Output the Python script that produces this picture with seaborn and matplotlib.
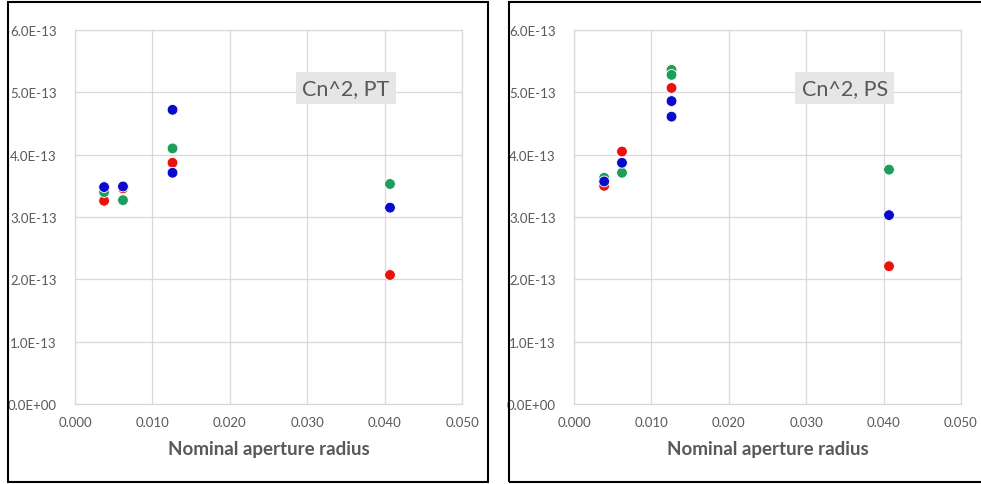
import numpy as np
import pandas as pd
import matplotlib
matplotlib.use('Agg')
import matplotlib.pyplot as plt
import seaborn as sns
from matplotlib.patches import Rectangle
from matplotlib.ticker import FuncFormatter

# PT panel data (Cn^2 vs nominal aperture radius)
pt_red_x = [0.00376, 0.0062, 0.0126, 0.0407]
pt_red_y = [3.26e-13, 3.46e-13, 3.87e-13, 2.07e-13]
pt_green_x = [0.00376, 0.0062, 0.0126, 0.0407]
pt_green_y = [3.40e-13, 3.27e-13, 4.10e-13, 3.53e-13]
pt_blue_x = [0.00376, 0.0062, 0.0126, 0.0126, 0.0407]
pt_blue_y = [3.48e-13, 3.49e-13, 4.72e-13, 3.71e-13, 3.15e-13]

# PS panel data
ps_red_x = [0.0039, 0.0062, 0.0126, 0.0126, 0.0407]
ps_red_y = [3.50e-13, 4.05e-13, 5.07e-13, 4.85e-13, 2.21e-13]
ps_green_x = [0.0039, 0.0062, 0.0126, 0.0126, 0.0407]
ps_green_y = [3.63e-13, 3.71e-13, 5.36e-13, 5.28e-13, 3.76e-13]
ps_blue_x = [0.0039, 0.0062, 0.0126, 0.0126, 0.0407]
ps_blue_y = [3.57e-13, 3.87e-13, 4.86e-13, 4.61e-13, 3.03e-13]

x_ticks = [0.0, 0.01, 0.02, 0.03, 0.04, 0.05]
y_ticks = [0.0, 1e-13, 2e-13, 3e-13, 4e-13, 5e-13, 6e-13]

palette = {'red': '#E8140C', 'green': '#1E9E5A', 'blue': '#0A0ACC'}
text_grey = '#595959'
grid_grey = '#D9D9D9'


def make_df(red_x, red_y, green_x, green_y, blue_x, blue_y):
    parts = []
    for name, xs, ys in [('red', red_x, red_y), ('green', green_x, green_y), ('blue', blue_x, blue_y)]:
        parts.append(pd.DataFrame({'x': xs, 'y': ys, 'series': name}))
    return pd.concat(parts, ignore_index=True)


sns.set_style('white')
plt.rcParams['font.family'] = ['Lato', 'DejaVu Sans']
fig = plt.figure(figsize=(9.81, 4.85), dpi=100)

# panel frames
W, H = 981, 485
fig.patches.append(Rectangle((8 / W, 2 / H), 480 / W, 480 / H, transform=fig.transFigure,
                             fill=False, edgecolor='black', linewidth=1.5))
fig.patches.append(Rectangle((509 / W, 2 / H), 480 / W, 480 / H, transform=fig.transFigure,
                             fill=False, edgecolor='black', linewidth=1.5))

panels = [
    (75, make_df(pt_red_x, pt_red_y, pt_green_x, pt_green_y, pt_blue_x, pt_blue_y), 'Cn^2, PT'),
    (574, make_df(ps_red_x, ps_red_y, ps_green_x, ps_green_y, ps_blue_x, ps_blue_y), 'Cn^2, PS'),
]

for left_px, df, label in panels:
    ax = fig.add_axes([left_px / W, (H - 405) / H, 387 / W, 374 / H])
    sns.scatterplot(data=df, x='x', y='y', hue='series', palette=palette, s=60,
                    edgecolor='white', linewidth=0.6, legend=False, ax=ax, zorder=3)
    ax.set_xlim(0, 0.05)
    ax.set_ylim(0, 6e-13)
    ax.set_xticks(x_ticks)
    ax.set_yticks(y_ticks)
    ax.xaxis.set_major_formatter(FuncFormatter(lambda v, p: f'{v:.3f}'))
    ax.yaxis.set_major_formatter(FuncFormatter(lambda v, p: f'{v:.1E}'))
    ax.grid(True, color=grid_grey, linewidth=0.9)
    ax.set_axisbelow(True)
    for sp in ax.spines.values():
        sp.set_color(grid_grey)
        sp.set_linewidth(0.9)
    ax.tick_params(axis='both', length=0, colors=text_grey, labelsize=9.5)
    ax.tick_params(axis='y', pad=13)
    ax.tick_params(axis='x', pad=9)
    ax.set_xlabel('Nominal aperture radius', fontsize=13.5, fontweight='bold', color=text_grey, labelpad=8)
    ax.set_ylabel('')
    ax.text(0.0350, 5.07e-13, label, fontsize=15.5, color=text_grey, ha='center', va='center',
            bbox=dict(facecolor='#E7E6E6', edgecolor='none', boxstyle='square,pad=0.3'))

fig.savefig('out.png', dpi=100)
